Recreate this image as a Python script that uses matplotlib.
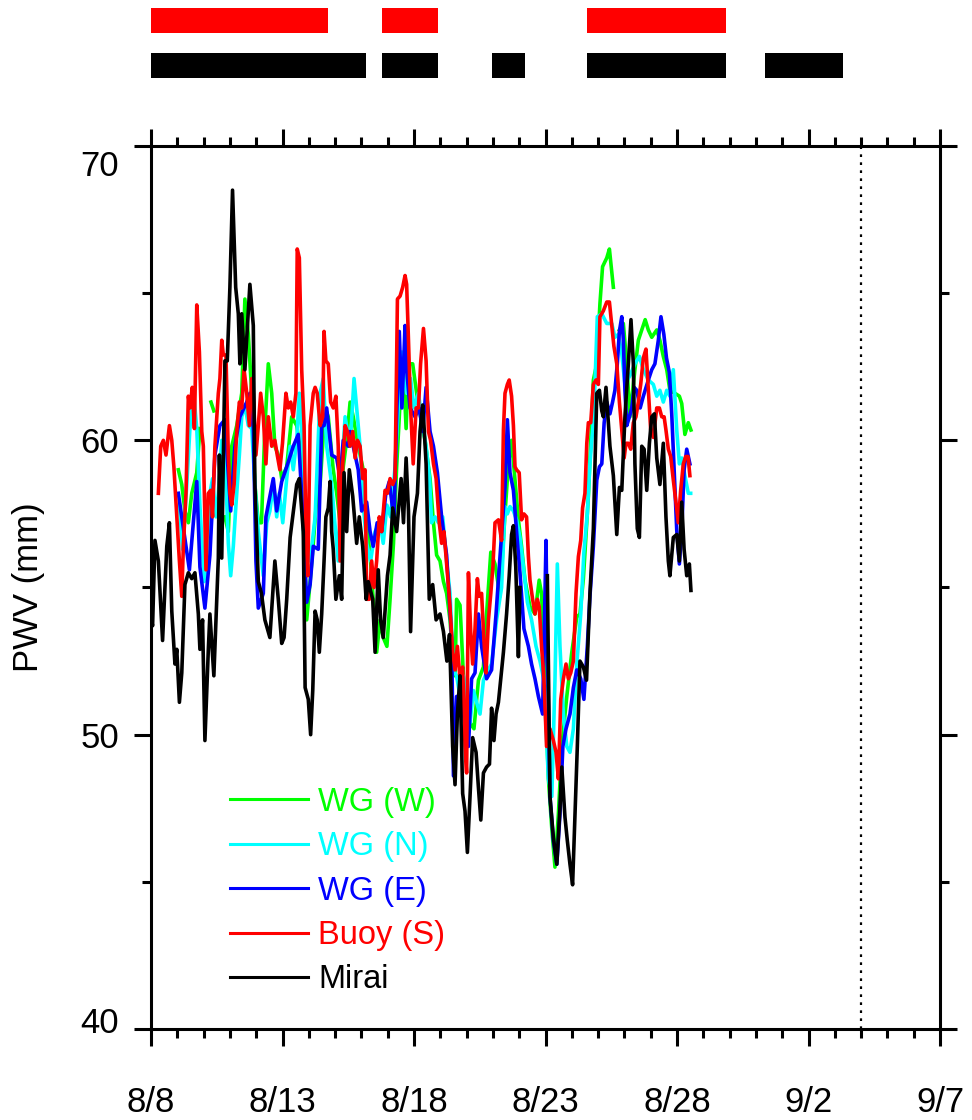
import matplotlib
matplotlib.use('Agg')
import matplotlib.pyplot as plt
import matplotlib.transforms as mtransforms
import numpy as np

plt.rcParams['font.family'] = ['Liberation Sans', 'DejaVu Sans']

nan = float('nan')

# PWV (mm) vs. days since 8/8
mirai = [
    (0.0, 54.0), (0.06, 53.7), (0.15, 56.6), (0.28, 55.9), (0.44, 53.2), (0.6, 56.4), (0.7, 57.2),
    (0.79, 54.2), (0.91, 52.4), (0.98, 52.9), (1.08, 51.1), (1.17, 52.1), (1.29, 55.1), (1.42, 55.5),
    (1.55, 55.3), (1.67, 55.5), (1.8, 54.1), (1.86, 52.9), (1.96, 53.9), (2.05, 49.8), (2.18, 52.9),
    (2.24, 54.1), (2.39, 52.0), (2.56, 56.0), (2.6, 59.5), (2.69, 56.0), (2.81, 62.7), (2.9, 62.7),
    (3.0, 65.2), (3.1, 68.5), (3.22, 65.2), (3.32, 64.3), (3.38, 62.6), (3.45, 64.3), (3.57, 62.4),
    (3.76, 65.3), (3.89, 63.9), (3.95, 58.5), (4.08, 55.2), (4.2, 54.8), (4.33, 53.9), (4.52, 53.3),
    (4.71, 55.9), (4.84, 54.6), (4.97, 53.1), (5.06, 53.3), (5.16, 54.6), (5.29, 56.7), (5.54, 58.5),
    (5.64, 58.7), (5.79, 56.9), (5.86, 51.6), (5.98, 51.2), (6.07, 50.0), (6.15, 51.5), (6.24, 54.2),
    (6.32, 53.9), (6.4, 52.8), (6.49, 54.1), (6.58, 55.9), (6.65, 57.4), (6.74, 57.7), (6.81, 58.6),
    (6.87, 56.9), (6.93, 56.3), (7.03, 54.6), (7.16, 55.4), (7.25, 54.6), (7.34, 58.9), (7.44, 56.9),
    (7.54, 59.0), (7.67, 58.1), (7.82, 56.5), (7.92, 57.4), (8.05, 56.4), (8.18, 54.6), (8.26, 55.2),
    (8.43, 54.6), (8.52, 52.8), (8.64, 55.6), (8.73, 53.9), (8.83, 53.3), (8.99, 55.4), (9.09, 56.1),
    (9.19, 57.7), (9.34, 56.9), (9.51, 58.7), (9.6, 57.2), (9.7, 59.4), (9.79, 57.6), (9.87, 53.5),
    (10.0, 57.4), (10.13, 58.2), (10.23, 60.3), (10.33, 61.2), (10.38, 60.5), (10.46, 59.2),
    (10.58, 54.6), (10.71, 55.1), (10.84, 53.9), (10.99, 54.1), (11.12, 53.5), (11.25, 52.5),
    (11.35, 53.4), (11.47, 49.6), (11.56, 48.3), (11.65, 50.7), (11.75, 52.0), (11.85, 48.0),
    (11.94, 47.4), (12.03, 46.0), (12.13, 47.9), (12.23, 49.9), (12.36, 49.4), (12.45, 48.2),
    (12.54, 47.1), (12.64, 48.7), (12.76, 48.9), (12.87, 49.0), (12.95, 50.9), (13.04, 49.8),
    (13.12, 50.7), (13.21, 51.1), (13.3, 51.9), (13.4, 52.8), (13.52, 54.1), (13.62, 55.4),
    (13.71, 56.8), (13.78, 57.1), (13.87, 55.7), (13.97, 52.65), (14.03, 55.0), (14.1, nan),
    (15.07, 55.4), (15.17, 47.9), (15.3, 46.5), (15.43, 45.6), (15.55, 47.5), (15.62, 48.9),
    (15.74, 47.2), (15.83, 46.4), (15.93, 45.6), (16.03, 44.9), (16.13, 47.5), (16.21, 49.6),
    (16.31, 52.5), (16.44, 52.3), (16.56, 51.85), (16.69, 54.8), (16.82, 57.0), (16.95, 61.6),
    (17.05, 61.7), (17.14, 61.0), (17.2, 60.8), (17.3, 61.8), (17.39, 60.6), (17.45, 59.8),
    (17.58, 58.8), (17.71, 56.8), (17.81, 58.4), (17.9, 58.3), (18.02, 60.8), (18.15, 62.6),
    (18.25, 64.1), (18.34, 62.6), (18.4, 59.2), (18.49, 57.0), (18.57, 56.7), (18.66, 59.8),
    (18.75, 59.7), (18.85, 58.3), (18.95, 59.9), (19.04, 60.8), (19.14, 60.9), (19.23, 59.4),
    (19.35, 58.5), (19.48, 59.9), (19.58, 57.4), (19.67, 55.9), (19.73, 55.4), (19.86, 56.7),
    (19.99, 56.8), (20.09, 55.9), (20.18, 57.9), (20.27, 56.3), (20.37, 55.4), (20.47, 55.8),
    (20.53, 54.9),
]

buoy_s = [
    (0.28, 58.2), (0.37, 59.8), (0.47, 60.0), (0.57, 59.5), (0.7, 60.5), (0.79, 60.0), (0.87, 59.1),
    (0.98, 57.4), (1.08, 55.9), (1.17, 54.7), (1.23, 56.4), (1.33, 58.2), (1.42, 61.5), (1.48, 61.1),
    (1.57, 61.8), (1.65, 60.4), (1.74, 64.6), (1.84, 63.0), (1.93, 60.3), (1.99, 59.8), (2.09, 55.6),
    (2.18, 58.2), (2.27, 58.3), (2.34, 57.4), (2.43, 59.8), (2.56, 61.6), (2.62, 62.1), (2.69, 63.4),
    (2.75, 62.9), (2.85, 62.9), (2.94, 59.5), (3.0, 58.2), (3.07, 57.8), (3.16, 58.5), (3.26, 60.3),
    (3.36, 61.3), (3.45, 61.1), (3.54, 62.4), (3.64, 61.6), (3.74, 60.5), (3.83, 62.1), (3.89, 61.6),
    (3.99, 59.5), (4.08, 60.5), (4.17, 61.6), (4.27, 60.8), (4.37, 59.2), (4.46, 60.8), (4.59, 59.8),
    (4.71, 60.0), (4.8, 59.5), (4.9, 59.0), (5.0, 59.9), (5.13, 61.6), (5.22, 61.1), (5.31, 61.3),
    (5.41, 60.8), (5.51, 61.6), (5.56, 66.5), (5.64, 66.2), (5.73, 62.4), (5.82, 60.5), (5.89, 56.9),
    (5.96, 55.4), (6.05, 60.5), (6.17, 61.6), (6.24, 61.8), (6.32, 61.6), (6.43, 60.5), (6.53, 60.8),
    (6.58, 63.7), (6.65, 62.7), (6.74, 62.6), (6.83, 61.3), (6.93, 61.1), (7.03, 61.5), (7.12, 59.8),
    (7.19, 55.9), (7.29, 59.2), (7.38, 60.5), (7.47, 60.3), (7.57, 59.8), (7.67, 60.3), (7.76, 59.4),
    (7.85, 60.0), (7.95, 59.8), (8.05, 58.7), (8.14, 59.0), (8.2, 54.6), (8.3, 54.6), (8.39, 55.9),
    (8.48, 55.0), (8.58, 55.9), (8.68, 57.4), (8.77, 56.9), (8.9, 58.3), (8.99, 58.2), (9.09, 58.7),
    (9.19, 58.5), (9.28, 58.7), (9.37, 64.8), (9.47, 64.9), (9.57, 65.2), (9.66, 65.6), (9.72, 65.3),
    (9.79, 63.4), (9.87, 61.1), (9.97, 59.2), (10.08, 61.1), (10.17, 61.1), (10.25, 62.6),
    (10.36, 63.8), (10.46, 62.7), (10.55, 60.3), (10.63, 60.0), (10.74, 59.2), (10.84, 58.7),
    (10.96, 57.2), (11.05, 56.5), (11.14, 56.9), (11.24, 55.8), (11.35, 54.6), (11.47, 52.8),
    (11.56, 52.2), (11.65, 53.0), (11.75, 51.9), (11.85, 52.3), (11.94, 49.6), (12.0, 48.7),
    (12.07, 55.5), (12.16, 53.4), (12.23, 52.4), (12.32, 53.6), (12.41, 55.3), (12.48, 54.7),
    (12.57, 54.8), (12.66, 53.2), (12.74, 52.1), (12.83, 53.9), (12.92, 54.8), (13.0, 55.7),
    (13.08, 57.2), (13.21, 57.3), (13.33, 56.6), (13.4, 60.35), (13.46, 61.6), (13.55, 61.9),
    (13.62, 62.05), (13.71, 61.5), (13.78, 60.5), (13.84, 59.1), (13.9, 59.0), (14.0, 58.9),
    (14.09, 57.3), (14.18, 57.5), (14.28, 57.4), (14.35, 56.05), (14.41, 55.25), (14.51, 54.6),
    (14.6, 54.1), (14.69, 54.6), (14.76, 54.35), (14.85, 53.0), (14.94, 51.9), (15.04, 49.6),
    (15.17, 50.2), (15.3, 49.8), (15.4, 49.4), (15.49, 48.5), (15.58, 51.2), (15.68, 51.9),
    (15.78, 52.4), (15.87, 51.9), (15.96, 52.1), (16.06, 52.5), (16.16, 54.8), (16.25, 56.05),
    (16.34, 56.6), (16.41, 57.7), (16.5, 58.2), (16.57, 59.9), (16.63, 60.6), (16.72, 60.6),
    (16.82, 61.9), (16.92, 62.05), (17.01, 61.9), (17.07, 64.2), (17.2, 64.4), (17.33, 64.7),
    (17.43, 64.7), (17.52, 63.9), (17.6, 63.2), (17.71, 62.6), (17.81, 61.3), (17.9, 60.35),
    (17.99, 59.4), (18.06, 59.9), (18.15, 59.9), (18.24, 59.7), (18.34, 60.6), (18.44, 60.8),
    (18.53, 61.3), (18.62, 61.9), (18.72, 62.8), (18.82, 63.1), (18.91, 61.7), (19.0, 60.35),
    (19.1, 60.1), (19.23, 61.1), (19.33, 61.1), (19.42, 60.8), (19.51, 60.8), (19.58, 60.35),
    (19.67, 59.7), (19.76, 59.45), (19.86, 58.65), (19.96, 57.9), (20.05, 57.2), (20.14, 58.3),
    (20.24, 59.2), (20.33, 59.45), (20.42, 59.45), (20.49, 58.8),
]

wg_e = [
    (1.04, 58.2), (1.46, 55.6), (1.74, 58.6), (1.86, 55.7), (2.05, 54.3), (2.24, 56.1), (2.43, 59.5),
    (2.62, 60.5), (2.81, 60.7), (3.03, 57.6), (3.19, 59.8), (3.38, 60.8), (3.64, 61.3), (3.76, 61.6),
    (3.89, 60.4), (3.99, 55.9), (4.08, 54.3), (4.27, 54.8), (4.37, 57.4), (4.52, 58.1), (4.65, 58.7),
    (4.78, 57.6), (4.97, 58.6), (5.16, 59.1), (5.41, 59.8), (5.6, 60.2), (5.79, 57.2), (5.92, 54.5),
    (6.05, 55.1), (6.17, 56.4), (6.36, 56.3), (6.49, 60.5), (6.58, 60.5), (6.68, 61.1), (6.87, 59.5),
    (7.06, 59.4), (7.19, 58.7), (7.31, 60.0), (7.5, 59.8), (7.57, 60.3), (7.76, 59.5), (7.88, 59.0),
    (8.01, 57.6), (8.2, 57.9), (8.33, 56.9), (8.45, 56.4), (8.6, 57.2), (8.77, 56.9), (8.93, 58.2),
    (9.06, 58.6), (9.24, 57.3), (9.34, 60.8), (9.44, 63.7), (9.54, 61.1), (9.66, 63.9), (9.72, 62.4),
    (9.85, 61.1), (10.04, 60.8), (10.2, 61.1), (10.33, 60.3), (10.46, 61.8), (10.61, 60.3),
    (10.74, 59.8), (10.89, 58.9), (11.05, 57.4), (11.24, 56.1), (11.43, 53.3), (11.5, 48.6),
    (11.62, 51.3), (11.88, 50.7), (12.07, 49.6), (12.19, 51.9), (12.32, 52.1), (12.45, 54.1),
    (12.57, 53.0), (12.76, 51.9), (12.95, 52.2), (13.12, 54.1), (13.27, 56.05), (13.46, 58.4),
    (13.55, 60.7), (13.65, 58.9), (13.78, 58.3), (13.9, 56.9), (14.03, 55.5), (14.18, 53.6),
    (14.35, 53.0), (14.47, 52.4), (14.6, 51.9), (14.73, 51.3), (14.89, 50.7), (15.02, 56.6),
    (15.07, 53.0), (15.17, 47.9), (15.3, 46.4), (15.43, 45.6), (15.55, 47.3), (15.66, 49.6),
    (15.78, 50.2), (15.93, 50.7), (16.06, 51.6), (16.19, 52.2), (16.34, 51.9), (16.46, 51.2),
    (16.59, 53.0), (16.69, 54.7), (16.82, 56.4), (16.95, 58.65), (17.05, 59.1), (17.14, 59.2),
    (17.23, 60.6), (17.33, 61.3), (17.45, 60.9), (17.55, 61.3), (17.64, 61.7), (17.73, 62.6),
    (17.81, 63.7), (17.9, 64.2), (17.96, 63.4), (18.02, 61.7), (18.09, 60.5), (18.19, 60.8),
    (18.28, 61.1), (18.37, 61.8), (18.47, 61.7), (18.6, 61.1), (18.72, 61.5), (18.91, 62.05),
    (19.04, 62.4), (19.16, 62.6), (19.29, 63.4), (19.39, 64.2), (19.5, 63.6), (19.6, 62.8),
    (19.71, 62.3), (19.8, 60.9), (19.89, 59.0), (19.99, 56.95), (20.09, 55.8), (20.18, 56.95),
    (20.27, 59.0), (20.37, 59.7), (20.49, 59.2),
]

wg_n = [
    (1.08, 57.8), (1.2, 56.3), (1.36, 58.5), (1.48, 60.4), (1.61, 61.7), (1.74, 60.4), (1.86, 57.8),
    (2.02, 55.2), (2.12, 55.9), (2.24, 58.2), (2.34, 58.7), (2.47, 57.4), (2.56, 58.2), (2.69, 60.0),
    (2.81, 59.5), (2.94, 56.5), (3.03, 55.4), (3.13, 56.4), (3.23, 57.8), (3.36, 59.5), (3.45, 60.8),
    (3.57, 61.2), (3.7, 60.5), (3.83, 60.4), (3.95, 58.5), (4.08, 56.9), (4.27, 55.4), (4.4, 57.2),
    (4.52, 57.6), (4.65, 58.5), (4.78, 57.4), (4.88, 58.2), (5.01, 57.2), (5.16, 58.7), (5.29, 59.8),
    (5.41, 59.0), (5.54, 60.0), (5.64, 61.6), (5.77, 59.8), (5.86, 57.2), (6.05, 55.9), (6.24, 57.4),
    (6.43, 61.6), (6.55, 62.1), (6.68, 59.8), (6.87, 58.5), (6.99, 57.2), (7.12, 55.9), (7.25, 59.0),
    (7.38, 60.8), (7.57, 59.8), (7.72, 62.1), (7.82, 61.1), (7.95, 59.8), (8.07, 57.8), (8.2, 56.5),
    (8.35, 55.9), (8.52, 56.9), (8.71, 57.2), (8.83, 56.5), (8.97, 57.8), (9.11, 57.4), (9.28, 59.1),
    (9.41, 61.3), (9.54, 63.0), (9.62, 62.1), (9.72, 61.6), (9.87, 62.1), (10.0, 61.1), (10.17, 61.6),
    (10.33, 60.5), (10.46, 59.8), (10.59, 58.7), (10.67, 57.2), (10.8, 57.4), (10.93, 57.2),
    (11.09, 57.4), (11.24, 55.9), (11.37, 54.8), (11.5, 52.2), (11.62, 52.0), (11.75, 51.3),
    (11.88, 52.0), (12.0, 51.3), (12.13, 50.4), (12.26, 51.5), (12.38, 51.1), (12.51, 50.7),
    (12.64, 51.85), (12.76, 52.1), (12.95, 52.4), (13.14, 53.9), (13.33, 55.0), (13.46, 57.75),
    (13.55, 57.5), (13.65, 57.75), (13.78, 57.6), (13.9, 57.3), (14.03, 56.7), (14.16, 55.7),
    (14.31, 54.5), (14.47, 53.9), (14.64, 53.0), (14.79, 52.5), (14.94, 51.85), (15.11, 48.5),
    (15.24, 47.9), (15.36, 51.85), (15.45, 55.8), (15.55, 53.0), (15.68, 50.7), (15.81, 49.6),
    (15.93, 49.4), (16.06, 50.2), (16.19, 52.4), (16.34, 54.1), (16.46, 56.2), (16.59, 57.5),
    (16.69, 59.2), (16.84, 60.9), (16.97, 64.2), (17.14, 64.3), (17.33, 63.97), (17.52, 63.97),
    (17.64, 63.5), (17.77, 63.6), (17.9, 62.95), (18.02, 61.9), (18.21, 62.2), (18.4, 62.6),
    (18.57, 62.85), (18.72, 62.4), (18.91, 62.05), (19.1, 61.9), (19.23, 61.5), (19.35, 61.7),
    (19.48, 61.3), (19.61, 61.7), (19.73, 61.5), (19.86, 62.4), (19.99, 60.35), (20.09, 59.2),
    (20.18, 59.4), (20.3, 58.8), (20.43, 58.2), (20.52, 58.2),
]

wg_w = [
    (1.04, 59.0), (1.17, 58.5), (1.29, 57.6), (1.42, 57.2), (1.55, 58.2), (1.74, 58.9), (1.86, 60.4),
    (2.0, nan), (2.28, 61.3), (2.39, 61.0), (2.5, nan), (2.81, 57.4), (2.94, 56.9), (3.07, 59.8),
    (3.26, 60.5), (3.45, 61.6), (3.57, 64.8), (3.7, 63.6), (3.83, 61.6), (3.95, 58.5), (4.08, 57.2),
    (4.2, 57.2), (4.33, 60.4), (4.46, 62.6), (4.59, 61.6), (4.71, 59.8), (4.84, 59.5), (4.97, 58.7),
    (5.16, 59.1), (5.35, 60.8), (5.54, 60.5), (5.66, 59.8), (5.79, 57.2), (5.92, 53.9), (6.05, 55.2),
    (6.17, 56.5), (6.3, 58.0), (6.43, 58.5), (6.62, 61.1), (6.74, 60.8), (6.93, 59.0), (7.06, 58.2),
    (7.19, 57.2), (7.31, 59.1), (7.44, 60.0), (7.57, 61.3), (7.69, 60.8), (7.88, 59.8), (8.07, 59.0),
    (8.2, 57.2), (8.33, 56.1), (8.45, 54.6), (8.58, 52.8), (8.71, 53.9), (8.83, 53.3), (8.97, 53.0),
    (9.09, 54.6), (9.22, 56.5), (9.34, 59.1), (9.47, 61.3), (9.6, 62.4), (9.7, 60.4), (9.79, 62.6),
    (9.95, 62.6), (10.1, 61.6), (10.25, 60.8), (10.42, 60.0), (10.61, 58.7), (10.74, 57.2),
    (10.86, 56.1), (10.99, 55.9), (11.12, 55.2), (11.24, 54.8), (11.37, 53.9), (11.47, 52.6),
    (11.56, 52.0), (11.62, 54.6), (11.75, 54.4), (11.88, 52.0), (12.0, 50.7), (12.13, 50.4),
    (12.28, 50.2), (12.45, 51.85), (12.64, 52.3), (12.76, 54.1), (12.92, 56.2), (13.08, 55.8),
    (13.27, 54.7), (13.46, 57.5), (13.59, 59.2), (13.71, 60.0), (13.84, 58.65), (13.97, 57.3),
    (14.09, 56.4), (14.22, 55.25), (14.41, 54.35), (14.6, 54.1), (14.76, 55.25), (14.85, 54.8),
    (14.98, 51.85), (15.11, 48.5), (15.24, 46.8), (15.36, 45.5), (15.49, 47.3), (15.62, 49.6),
    (15.81, 51.3), (16.0, 52.8), (16.19, 54.0), (16.31, 54.1), (16.44, 55.3), (16.63, 58.1),
    (16.82, 62.05), (16.95, 62.6), (17.07, 64.65), (17.17, 65.9), (17.33, 66.2), (17.43, 66.5),
    (17.52, 65.7), (17.58, 65.2), (17.7, nan), (17.81, 63.75), (17.96, 63.97), (18.09, 62.6),
    (18.21, 60.8), (18.4, 62.4), (18.53, 63.4), (18.66, 63.75), (18.79, 64.1), (18.91, 63.75),
    (19.04, 63.5), (19.23, 63.75), (19.35, 63.4), (19.48, 62.85), (19.61, 62.4), (19.73, 61.7),
    (19.92, 61.6), (20.09, 61.5), (20.18, 61.25), (20.3, 60.2), (20.43, 60.6), (20.53, 60.35),
]

# observation periods shown above the panel: (start day, length in days)
buoy_periods = [(0.0, 6.72), (8.8, 2.11), (16.56, 5.29)]
mirai_periods = [(0.0, 8.16), (8.8, 2.11), (12.97, 1.26), (16.56, 5.29), (23.33, 2.97)]

date_labels = ['8/8', '8/13', '8/18', '8/23', '8/28', '9/2', '9/7']

fig = plt.figure(figsize=(9.72, 11.2), dpi=100)
ax = fig.add_axes([151 / 972, 1 - 1029 / 1120, 789 / 972, 883 / 1120])

series = [
    (wg_w, '#00ff00', 'WG (W)'),
    (wg_n, '#00ffff', 'WG (N)'),
    (wg_e, '#0000ff', 'WG (E)'),
    (buoy_s, '#ff0000', 'Buoy (S)'),
    (mirai, 'black', 'Mirai'),
]
for data, color, label in series:
    d = np.array(data, dtype=float)
    ax.plot(d[:, 0], d[:, 1], color=color, lw=2.6, label=label)

ax.axvline(27, color='black', lw=1.6, ls=(0, (1.2, 2.4)))

ax.set_xlim(0, 30)
ax.set_ylim(40, 70)
ax.set_xticks(np.arange(0, 31, 5))
ax.set_xticklabels(date_labels)
ax.set_xticks(np.arange(0, 31, 1), minor=True)
ax.set_yticks([40, 50, 60, 70])
ax.set_yticks(np.arange(40, 71, 5), minor=True)

for s in ax.spines.values():
    s.set_linewidth(2.2)
ax.tick_params(which='both', direction='out', top=True, right=True, width=2.2)
ax.tick_params(which='major', length=12)
ax.tick_params(which='minor', length=6.5)
ax.tick_params(axis='x', labelsize=25, pad=29)
ax.tick_params(axis='y', labelsize=25, pad=11)

# end labels of the y axis are pulled inward like the original
yt = ax.yaxis.get_major_ticks()
yt[0].label1.set_transform(yt[0].label1.get_transform() +
                           mtransforms.ScaledTranslation(0, 9 / 100, fig.dpi_scale_trans))
yt[-1].label1.set_transform(yt[-1].label1.get_transform() +
                            mtransforms.ScaledTranslation(0, -17 / 100, fig.dpi_scale_trans))

ax.set_ylabel('PWV (mm)', fontsize=25)
ax.yaxis.set_label_coords(-0.134, 0.5)

leg = ax.legend(loc='upper left', bbox_to_anchor=(0.1, 0.2743), frameon=False, fontsize=23.5,
                labelcolor='linecolor', handlelength=2.4, handletextpad=0.3,
                labelspacing=0.41, borderpad=0, borderaxespad=0)
for h in leg.get_lines():
    h.set_linewidth(2.2)

# bars above the panel
bar_ax = fig.add_axes([151 / 972, 1 - 80 / 1120, 789 / 972, 80 / 1120])
bar_ax.set_xlim(0, 30)
bar_ax.set_ylim(80, 0)
bar_ax.axis('off')
bar_ax.broken_barh(buoy_periods, (8, 25), facecolors='red')
bar_ax.broken_barh(mirai_periods, (53, 25), facecolors='black')

fig.savefig('out.png', dpi=100)
